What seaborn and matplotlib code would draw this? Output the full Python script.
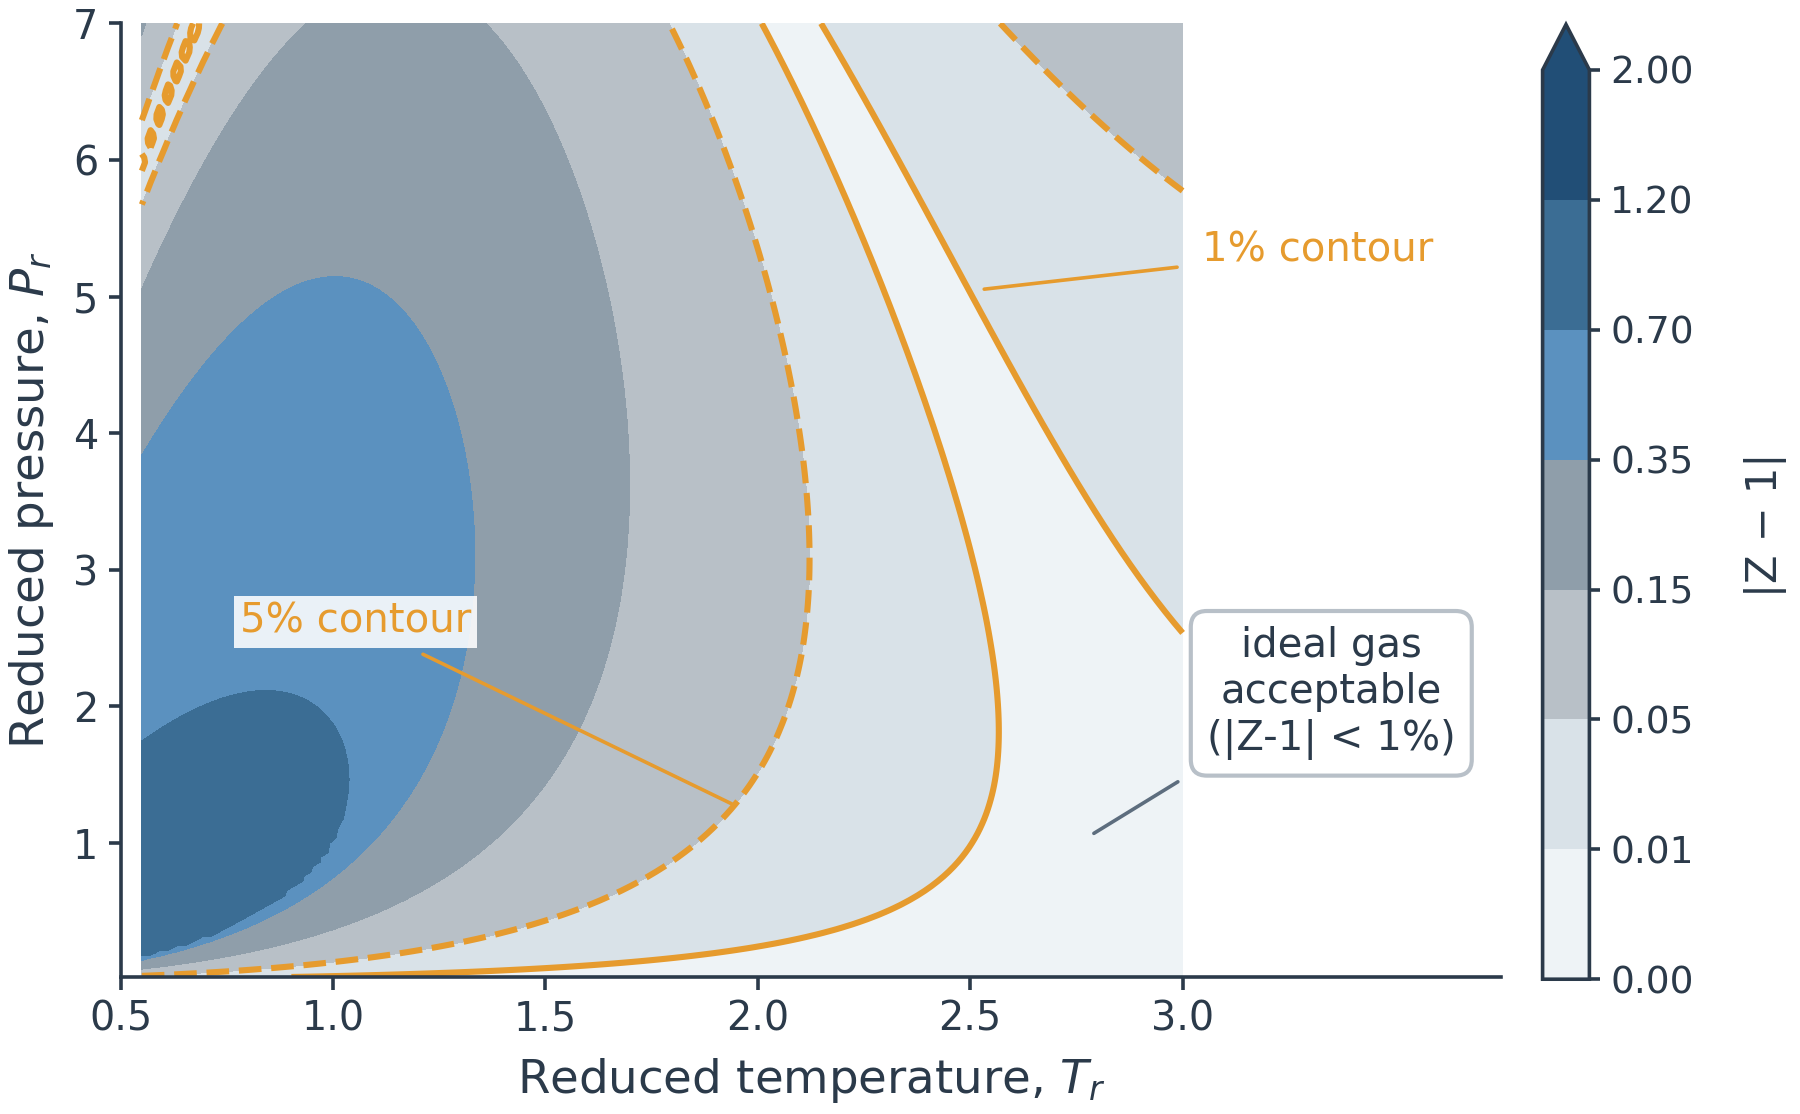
import numpy as np
import matplotlib
matplotlib.use("Agg")
import matplotlib.pyplot as plt
import matplotlib.colors as mcolors
import seaborn as sns

# Peng-Robinson inputs (reduced units)
omega = 0.0
tr_grid = np.linspace(0.55, 3.0, 120)
pr_grid = np.linspace(0.02, 7.0, 200)

# contour bands of |Z-1| and their colours
levels = [0.00, 0.01, 0.05, 0.15, 0.35, 0.70, 1.20, 2.00]
band_colors = ["#eef3f6", "#d9e2e8", "#b8c0c7", "#8f9eaa",
               "#5b91bf", "#3b6d94", "#214e76"]
over_color = "#214e76"
line_levels = [0.01, 0.05]
line_styles = ["solid", "dashed"]

xticks = [0.5, 1.0, 1.5, 2.0, 2.5, 3.0]
yticks = [1, 2, 3, 4, 5, 6, 7]

ORANGE = "#e69b2e"
INK = "#2b3a4a"


def pr_z(tr, pr, w):
    # largest real root of the Peng-Robinson cubic in Z
    kappa = 0.37464 + 1.54226 * w - 0.26992 * w ** 2
    alpha = (1 + kappa * (1 - np.sqrt(tr))) ** 2
    A = 0.45724 * alpha * pr / tr ** 2
    B = 0.07780 * pr / tr
    roots = np.roots([1.0, -(1 - B), A - 3 * B ** 2 - 2 * B,
                      -(A * B - B ** 2 - B ** 3)])
    real = roots[np.abs(roots.imag) < 1e-9].real
    real = real[real > B]
    return real.max()


TR, PR = np.meshgrid(tr_grid, pr_grid)
Z = np.vectorize(pr_z)(TR, PR, omega)
dev = np.abs(Z - 1)

sns.set_theme(style="ticks")
plt.rcParams.update({
    "font.family": ["DejaVu Sans"],
    "text.color": INK, "axes.labelcolor": INK, "axes.edgecolor": INK,
    "xtick.color": INK, "ytick.color": INK,
    "axes.linewidth": 1.3, "xtick.major.width": 1.3, "ytick.major.width": 1.3,
    "xtick.major.size": 4.5, "ytick.major.size": 4.5,
})

fig = plt.figure(figsize=(9, 5.57), dpi=200)
ax = fig.add_axes([0.067, 0.123, 0.767, 0.856])
cax = fig.add_axes([0.857, 0.121, 0.026, 0.857])

cmap = mcolors.ListedColormap(band_colors)
cmap.set_over(over_color)
norm = mcolors.BoundaryNorm(levels, cmap.N)

cf = ax.contourf(TR, PR, dev, levels=levels, cmap=cmap, norm=norm, extend="max")
ax.contour(TR, PR, dev, levels=line_levels, colors=ORANGE,
           linestyles=line_styles, linewidths=2.2)

ax.set_xlim(0.5, 3.75)
ax.set_ylim(pr_grid[0], 7)
ax.set_xticks(xticks)
ax.set_yticks(yticks)
ax.tick_params(labelsize=14.3)
ax.set_xlabel("Reduced temperature, $T_r$", fontsize=16.8, labelpad=6)
ax.set_ylabel("Reduced pressure, $P_r$", fontsize=16.8, labelpad=6)
sns.despine(ax=ax)

cb = fig.colorbar(cf, cax=cax)
cb.set_ticks(levels)
cb.set_ticklabels([f"{v:.2f}" for v in levels])
cb.ax.tick_params(labelsize=13.5, width=1.3, length=4)
cb.outline.set_edgecolor(INK)
cb.outline.set_linewidth(1.3)
cb.set_label("|Z − 1|", fontsize=15, labelpad=18)

# annotations
ax.text(0.78, 2.62, "5% contour", color=ORANGE, fontsize=14.5, va="center",
        bbox=dict(boxstyle="square,pad=0.15", facecolor="white", alpha=0.88,
                  edgecolor="none"))
ax.annotate("", xy=(1.95, 1.27), xytext=(1.2, 2.4),
            arrowprops=dict(arrowstyle="-", color=ORANGE, lw=1.3))

ax.text(3.045, 5.34, "1% contour", color=ORANGE, fontsize=14.5, va="center")
ax.annotate("", xy=(2.52, 5.05), xytext=(3.0, 5.22),
            arrowprops=dict(arrowstyle="-", color=ORANGE, lw=1.3))

ax.text(3.35, 2.1, "ideal gas\nacceptable\n(|Z-1| < 1%)", color=INK,
        fontsize=14.5, ha="center", va="center", multialignment="center",
        bbox=dict(boxstyle="round,pad=0.4", facecolor="white",
                  edgecolor="#b8c0c8", lw=1.5))
ax.annotate("", xy=(2.78, 1.05), xytext=(3.0, 1.47),
            arrowprops=dict(arrowstyle="-", color="#5d6d7e", lw=1.3))

fig.savefig("out.png", dpi=200)
